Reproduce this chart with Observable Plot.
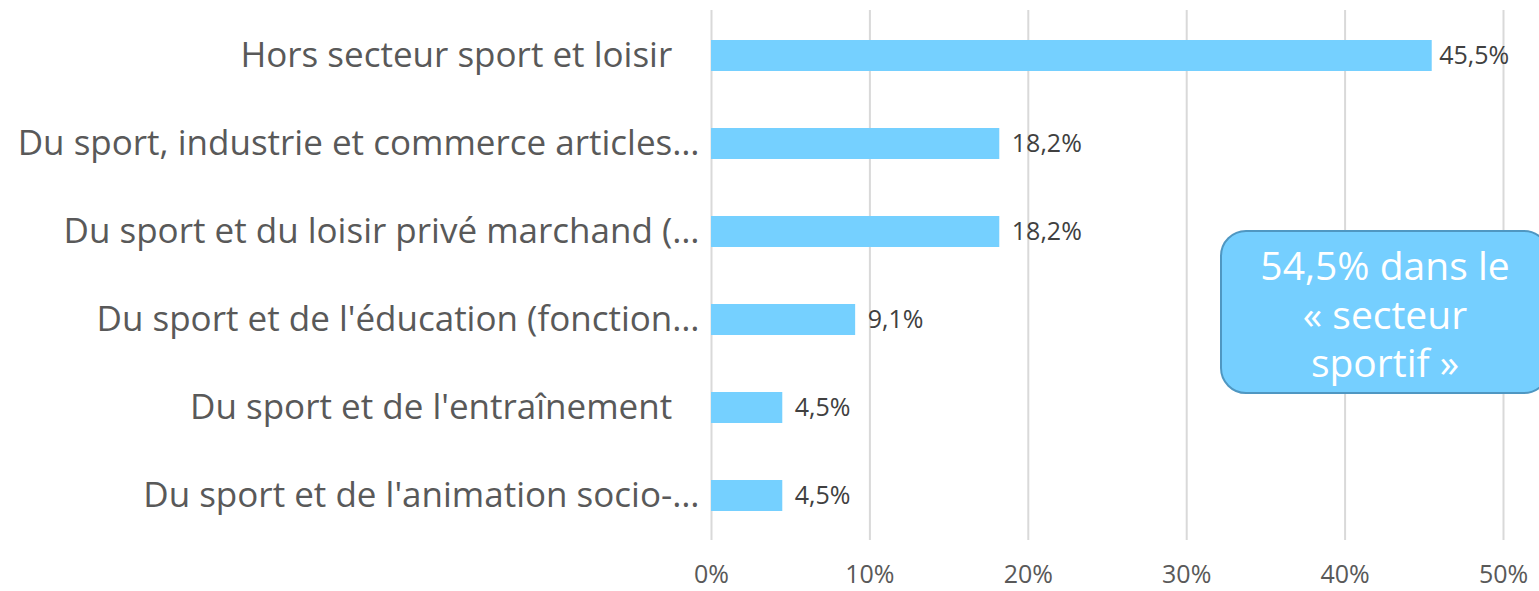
<!DOCTYPE html>
<html><head><meta charset="utf-8">
<script src="https://cdn.jsdelivr.net/npm/d3@7"></script>
<script src="https://cdn.jsdelivr.net/npm/@observablehq/plot@0.6"></script>
<style>
body{margin:0;background:#fff;font-family:"Open Sans",sans-serif;}
#wrap{position:relative;width:1539px;height:591px;overflow:hidden;}
#note{position:absolute;left:1220px;top:230px;width:330px;height:164px;box-sizing:border-box;background:#75CFFF;border:2px solid #4F97C2;border-radius:26px;color:#fff;font-size:39px;line-height:48.5px;text-align:center;padding:9px 0 0 0;white-space:nowrap;}
</style></head><body>
<div id="wrap"></div>
<script>
const categories = [
  "Hors secteur sport et loisir\u00a0\u00a0\u00a0",
  "Du sport, industrie et commerce articles…",
  "Du sport et du loisir privé marchand (…",
  "Du sport et de l'éducation (fonction…",
  "Du sport et de l'entraînement\u00a0\u00a0\u00a0",
  "Du sport et de l'animation socio-…"
];
const values = [45.5, 18.2, 18.2, 9.1, 4.5, 4.5];
const valueLabels = ["45,5%", "18,2%", "18,2%", "9,1%", "4,5%", "4,5%"];
const ticks = [0, 10, 20, 30, 40, 50];
const noteText = ["54,5% dans le", "« secteur", "sportif »"];

const data = categories.map((c, i) => ({cat: c, v: values[i], lab: valueLabels[i], i}));

const chart = Plot.plot({
  width: 1539, height: 591,
  marginLeft: 711, marginRight: 36, marginTop: 10, marginBottom: 51,
  style: {fontFamily: "Open Sans, sans-serif", color: "#595959", background: "#fff"},
  x: {domain: [0, 50], ticks: ticks, label: null},
  y: {domain: categories, paddingInner: 0.65, paddingOuter: 0.325, label: null},
  marks: [
    Plot.gridX(ticks, {stroke: "#D9D9D9", strokeOpacity: 1, strokeWidth: 2}),
    Plot.barX(data, {x: "v", y: "cat", fill: "#75D0FF"}),
    Plot.text(data, {filter: d => d.i > 0, x: "v", y: "cat", text: "lab", dx: 12, textAnchor: "start", fontSize: 25, fill: "#404040"}),
    Plot.text(data, {filter: d => d.i === 0, x: "v", y: "cat", text: "lab", dx: 7, textAnchor: "start", fontSize: 25, fill: "#404040"}),
    Plot.axisX({ticks: ticks, tickSize: 0, tickPadding: 25, fontSize: 25, tickFormat: d => d + "%", fill: "#595959", label: null}),
    Plot.axisY({tickSize: 0, tickPadding: 12, fontSize: 35, fill: "#595959", textOverflow: null, label: null})
  ]
});
const wrap = document.getElementById("wrap");
wrap.appendChild(chart);
const note = document.createElement("div");
note.id = "note";
note.innerHTML = noteText.join("<br>");
wrap.appendChild(note);
</script>
</body></html>
